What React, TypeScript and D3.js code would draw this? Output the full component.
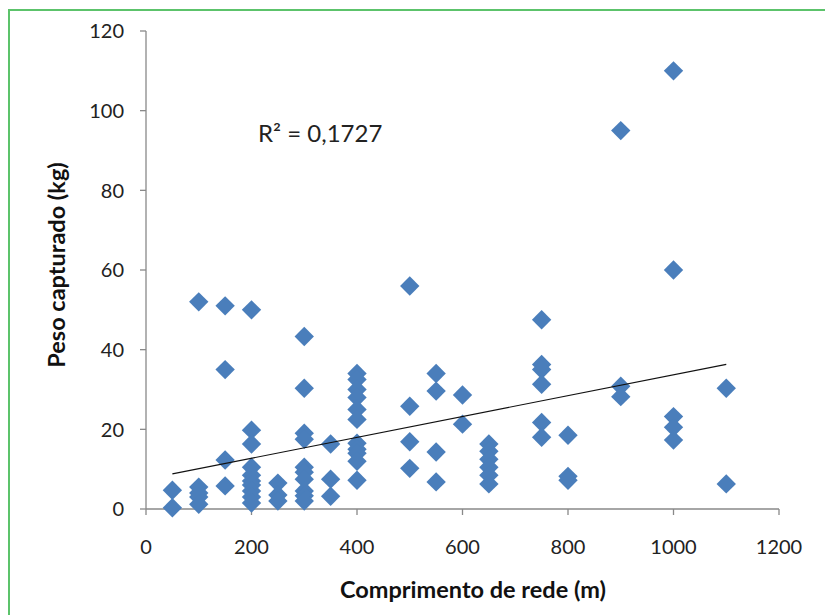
import React from "react";
import * as d3 from "d3";

// Comprimento de rede (m) -> list of peso capturado (kg)
const lengths = [50, 100, 150, 200, 250, 300, 350, 400, 500, 550, 600, 650, 750, 800, 900, 1000, 1100];
const weights: number[][] = [
  [4.7, 0.3],
  [52, 5.5, 4, 3, 1.2],
  [51, 35, 12.3, 5.8],
  [50, 19.8, 16.3, 10.5, 8.5, 7, 6, 4.5, 3, 1.5],
  [6.5, 3.5, 2],
  [43.3, 30.3, 19, 17.5, 10.5, 9.2, 7.5, 4.5, 3.3, 2],
  [16.3, 7.5, 3.2],
  [34, 32.5, 30, 28, 25, 22.5, 16.5, 15, 14, 12, 7.2],
  [56, 25.8, 16.9, 10.2],
  [34, 29.6, 14.3, 6.8],
  [28.6, 21.3],
  [16.3, 14.5, 12.5, 10.5, 8.5, 6.3],
  [47.5, 36.3, 35, 31.3, 21.7, 18],
  [18.5, 8.2, 7.2],
  [95, 30.8, 28.2],
  [110, 60, 23.2, 20.5, 17.3],
  [30.3, 6.3],
];
const xTicks = [0, 200, 400, 600, 800, 1000, 1200];
const yTicks = [0, 20, 40, 60, 80, 100, 120];
const trendIntercept = 7.5;
const trendSlope = 0.0262;
const r2Label = "R² = 0,1727";
const xTitle = "Comprimento de rede (m)";
const yTitle = "Peso capturado (kg)";

export default function App() {
  const W = 825, H = 615;
  const x = d3.scaleLinear().domain([0, 1200]).range([146, 779]);
  const y = d3.scaleLinear().domain([0, 120]).range([509, 31]);
  const points = lengths.flatMap((l, i) => weights[i].map((w) => ({ l, w })));
  const diamond = d3.symbol().type(d3.symbolDiamond2).size(240)();
  const xs = d3.extent(lengths) as [number, number];
  const font = "Lato, 'Open Sans', sans-serif";
  const axisColor = "#898989";
  return (
    <svg width={W} height={H} style={{ position: "absolute", left: 0, top: 0 }}>
      <rect x={0} y={0} width={W} height={H} fill="#fff" />
      <rect x={9} y={10} width={W + 10} height={H + 10} fill="none" stroke="#5cc36b" strokeWidth={2} />
      {/* axes */}
      <line x1={x(0)} x2={x(1200)} y1={y(0)} y2={y(0)} stroke={axisColor} strokeWidth={1.3} />
      <line x1={x(0)} x2={x(0)} y1={y(0)} y2={y(120)} stroke={axisColor} strokeWidth={1.3} />
      {yTicks.map((t) => (
        <g key={"y" + t}>
          <line x1={x(0) - 6} x2={x(0)} y1={y(t)} y2={y(t)} stroke={axisColor} strokeWidth={1.3} />
          <text x={x(0) - 22} y={y(t)} dy="0.36em" textAnchor="end" fontFamily={font} fontSize={20} fill="#222">
            {t}
          </text>
        </g>
      ))}
      {xTicks.map((t) => (
        <g key={"x" + t}>
          <line x1={x(t)} x2={x(t)} y1={y(0)} y2={y(0) + 6} stroke={axisColor} strokeWidth={1.3} />
          <text x={x(t)} y={y(0) + 38} dy="0.36em" textAnchor="middle" fontFamily={font} fontSize={20} fill="#222">
            {t}
          </text>
        </g>
      ))}
      {/* points */}
      {points.map((p, i) => (
        <path key={i} d={diamond!} transform={`translate(${x(p.l)},${y(p.w)})`} fill="#4a7ebb" />
      ))}
      {/* trendline */}
      <line
        x1={x(xs[0])}
        y1={y(trendIntercept + trendSlope * xs[0])}
        x2={x(xs[1])}
        y2={y(trendIntercept + trendSlope * xs[1])}
        stroke="#111"
        strokeWidth={1.2}
      />
      <text x={258} y={142} fontFamily={font} fontSize={24} fill="#222">
        {r2Label}
      </text>
      <text x={473} y={590} dy="0.36em" textAnchor="middle" fontFamily={font} fontSize={23.5} fontWeight="bold" fill="#111">
        {xTitle}
      </text>
      <text
        transform={`translate(57,${265}) rotate(-90)`}
        dy="0.36em"
        textAnchor="middle"
        fontFamily={font}
        fontSize={23.5}
        fontWeight="bold"
        fill="#111"
      >
        {yTitle}
      </text>
    </svg>
  );
}
